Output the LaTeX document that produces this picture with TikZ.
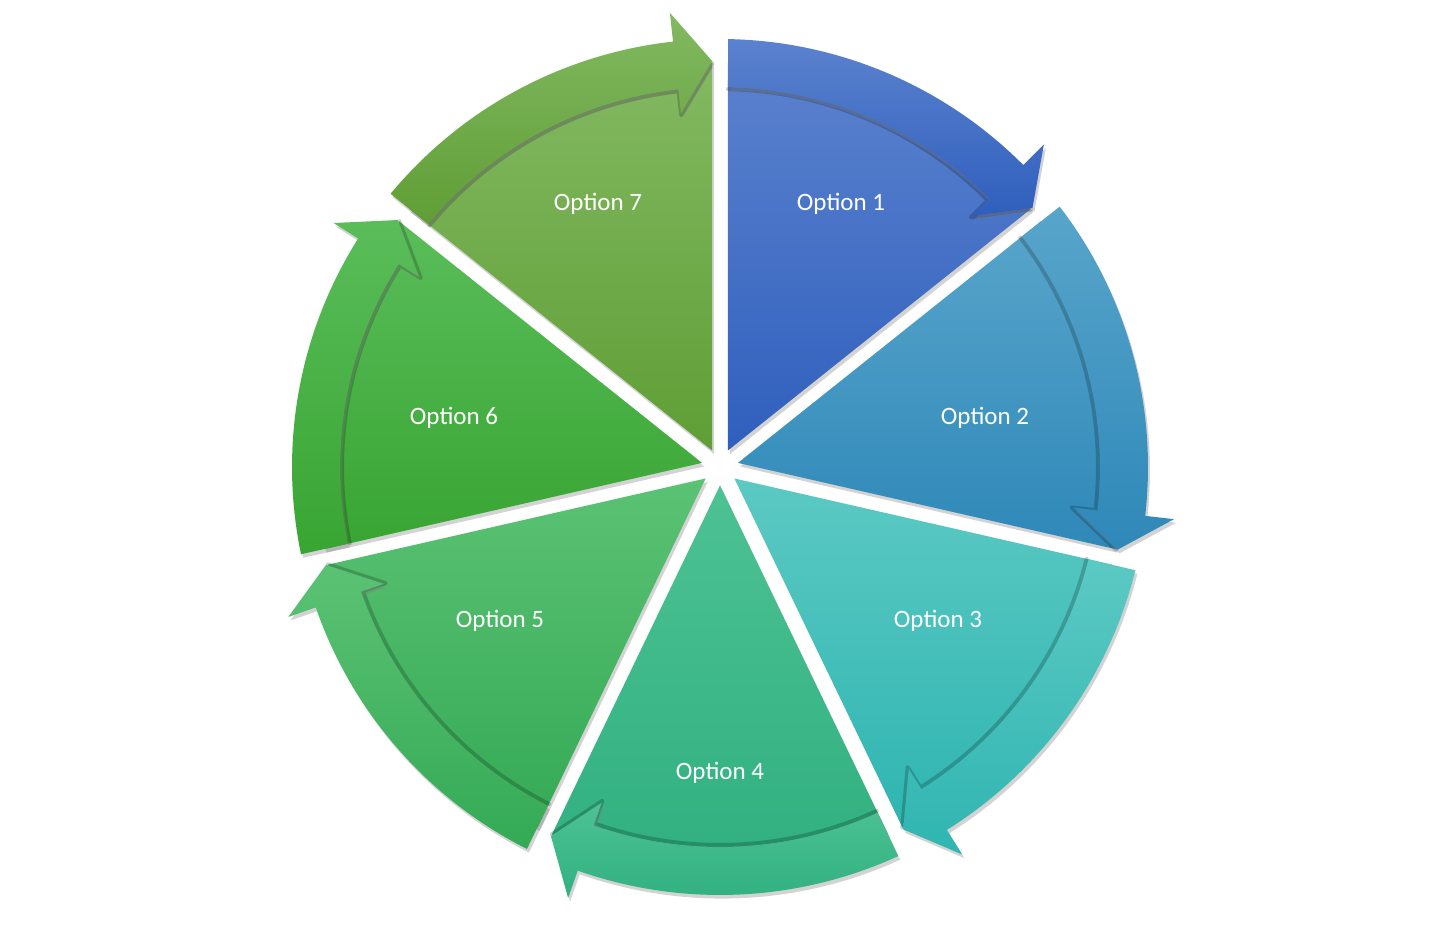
\documentclass[tikz,border=0pt]{standalone}
\usepackage{fontspec}
\setmainfont{Carlito}
\usetikzlibrary{calc,shadows}
\definecolor{top1}{HTML}{5B82CE}\definecolor{bot1}{HTML}{2F5FBD}
\definecolor{top2}{HTML}{58A5CB}\definecolor{bot2}{HTML}{2E88B8}
\definecolor{top3}{HTML}{5CC9C3}\definecolor{bot3}{HTML}{2FB5B1}
\definecolor{top4}{HTML}{4DC294}\definecolor{bot4}{HTML}{2FAF7F}
\definecolor{top5}{HTML}{5BC274}\definecolor{bot5}{HTML}{34AA55}
\definecolor{top6}{HTML}{5ABD5A}\definecolor{bot6}{HTML}{38A532}
\definecolor{top7}{HTML}{83B962}\definecolor{bot7}{HTML}{5F9E35}
\tikzset{
  every picture/.style={line join=round, line cap=round},
  piece/.style={drop shadow={opacity=0.35, shadow xshift=1pt, shadow yshift=-1.8pt}},
  rim/.style={draw=black, opacity=0.2, line width=2pt},
  optlabel/.style={text=white, font=\fontsize{12.5}{15}\selectfont},
}

\begin{document}
\begin{tikzpicture}[x=0.5pt,y=0.5pt]
\useasboundingbox (0,0) rectangle (1440,933);
\coordinate (C) at (720,466);
\foreach \k/\lx/\ly in {1/841/204,2/985/418,3/938/621,4/720/773,5/500/621,6/454/418,7/598/204}{
  \pgfmathsetmacro\s{90-(\k-1)*360/7}
  \pgfmathsetmacro\e{90-\k*360/7}
  \pgfmathsetmacro\m{(\s+\e)/2}
  \pgfmathsetmacro\ws{\s-1.13}
  \pgfmathsetmacro\we{\e+1.13}
  \pgfmathsetmacro\ts{\s-1.1}
  \pgfmathsetmacro\tis{\s-1.2}
  \pgfmathsetmacro\hb{\e+6.3}
  \pgfmathsetmacro\tip{\e+1.1}
  % wedge
  \path[piece, top color=top\k, bottom color=bot\k]
    ($(C)+(\m:18.4)$) -- ($(C)+(\ws:404)$)
    arc[start angle=\ws, end angle=\we, radius=404] -- cycle;
  \path[rim] ($(C)+(\tis:378)$) arc[start angle=\tis, end angle=\hb, radius=378]
    -- ($(C)+(\hb:354)$) -- ($(C)+(\tip:404)$);
  % circular arrow
  \path[piece, top color=top\k, bottom color=bot\k]
    ($(C)+(\ts:428)$) arc[start angle=\ts, end angle=\hb, radius=428]
    -- ($(C)+(\hb:457)$) -- ($(C)+(\tip:406)$) -- ($(C)+(\hb:356)$)
    -- ($(C)+(\hb:380)$) arc[start angle=\hb, end angle=\tis, radius=380] -- cycle;
  \node[optlabel] (opt\k) at (\lx,933-\ly) {Option \k};
}
\end{tikzpicture}
\end{document}
